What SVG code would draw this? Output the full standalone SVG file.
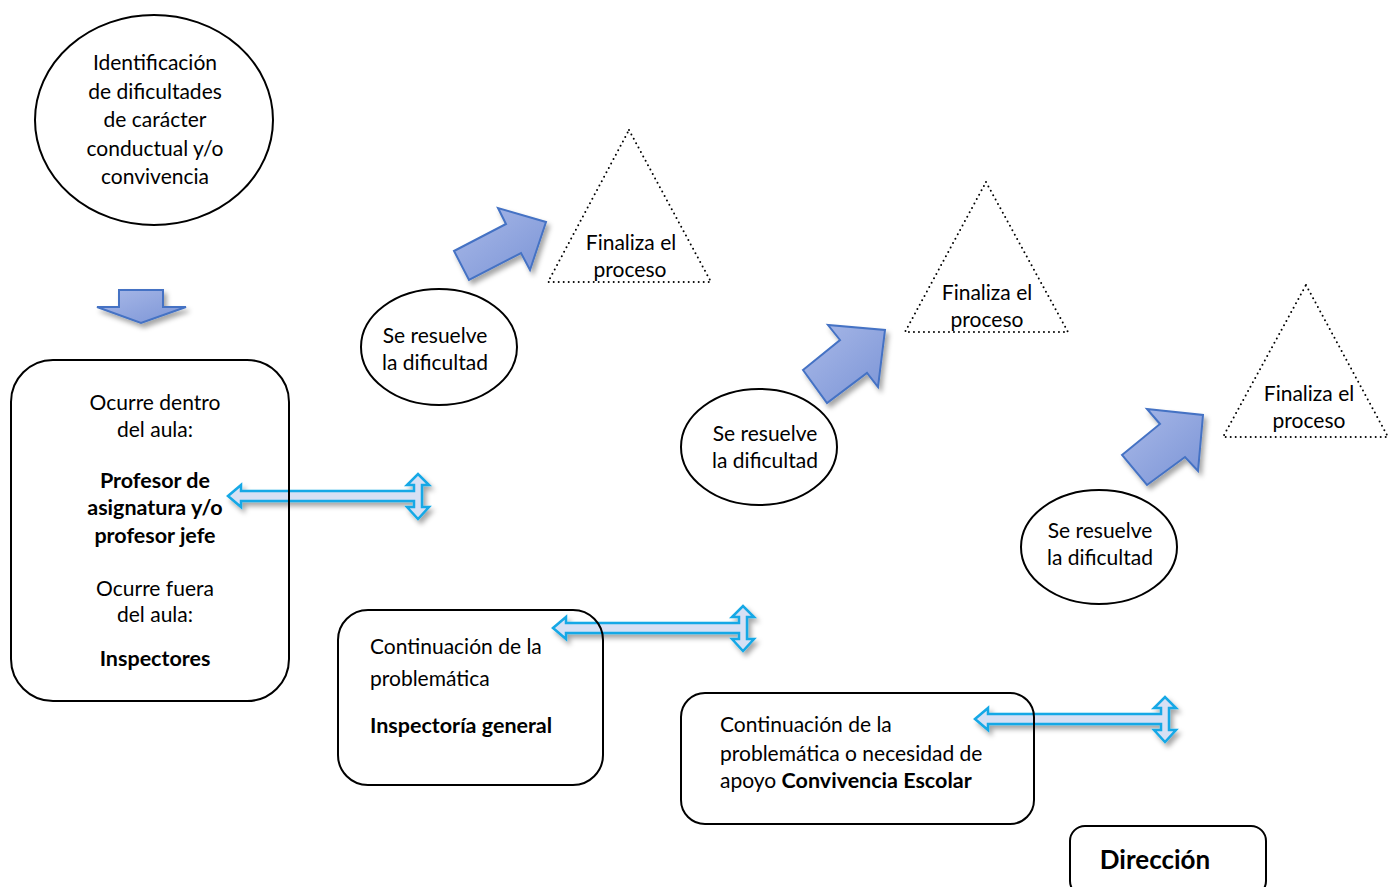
<svg xmlns="http://www.w3.org/2000/svg" width="1392" height="887" viewBox="0 0 1392 887">
  <style>
    .t { font-family: Lato, "Liberation Sans", sans-serif; font-size: 21px; fill: #000; }
    .c { text-anchor: middle; }
    .b { font-weight: bold; font-size: 21.5px; }
    .shape { fill: none; stroke: #000; stroke-width: 2; }
    .dots { fill: none; stroke: #000; stroke-width: 2; stroke-dasharray: 0 5; stroke-linecap: round; }
    .blk { fill: url(#blockFill); stroke: #4472c4; stroke-width: 2; stroke-linejoin: miter; filter: url(#softShadow); }
    .dbl { fill: #d7e0f4; stroke: #13a8e6; stroke-width: 2.5; stroke-linejoin: miter; filter: url(#softShadow); }
  </style>
  <defs>
    <linearGradient id="blockFill" x1="0" y1="0" x2="1" y2="1">
      <stop offset="0" stop-color="#a9b9e8"/>
      <stop offset="1" stop-color="#7b94d6"/>
    </linearGradient>
    <filter id="softShadow" x="-20%" y="-30%" width="150%" height="170%">
      <feDropShadow dx="3" dy="4" stdDeviation="2.5" flood-color="#000" flood-opacity="0.35"/>
    </filter>
    <!-- left-pointing arrow with a vertical two-way arrow at its right end -->
    <path id="twoWay" d="M0,0 L13,-11 L13,-5 L186,-5 L186,-11 L179,-11 L190,-22 L201,-11 L194,-11 L194,11 L201,11 L190,23 L179,11 L186,11 L186,5 L13,5 L13,11 Z"/>
  </defs>

  <rect width="1392" height="887" fill="#fff"/>

  <g id="connectors">
    <polygon class="blk" points="119,290 163,290 163,307 186,307 141,323 97,307 119,307"/>
    <polygon class="blk" points="454,251 506,224 498,208 546,222 530,270 521,253 469,280"/>
    <polygon class="blk" points="803,370 840,340 828,325 885,330 878,387 867,373 827,403"/>
    <polygon class="blk" points="1122,455 1160,424 1147,409 1203,415 1198,471 1185,457 1147,485"/>
    <use href="#twoWay" class="dbl" transform="translate(228,496)"/>
    <use href="#twoWay" class="dbl" transform="translate(553,628)"/>
    <use href="#twoWay" class="dbl" transform="translate(975,719)"/>
  </g>

  <g id="start">
    <ellipse class="shape" cx="154" cy="120" rx="119" ry="105"/>
    <text class="t c" x="155" y="70">Identificación</text>
    <text class="t c" x="155" y="99">de dificultades</text>
    <text class="t c" x="155" y="127">de carácter</text>
    <text class="t c" x="155" y="156">conductual y/o</text>
    <text class="t c" x="155" y="184">convivencia</text>
  </g>

  <g id="level1">
    <rect class="shape" x="11" y="360" width="278" height="341" rx="42"/>
    <text class="t c" x="155" y="410">Ocurre dentro</text>
    <text class="t c" x="155" y="437">del aula:</text>
    <text class="t c b" x="155" y="488">Profesor de</text>
    <text class="t c b" x="155" y="515">asignatura y/o</text>
    <text class="t c b" x="155" y="543">profesor jefe</text>
    <text class="t c" x="155" y="596">Ocurre fuera</text>
    <text class="t c" x="155" y="622">del aula:</text>
    <text class="t c b" x="155" y="666">Inspectores</text>
  </g>

  <g id="level2">
    <rect class="shape" x="338" y="610" width="265" height="175" rx="30"/>
    <text class="t" x="370" y="654">Continuación de la</text>
    <text class="t" x="370" y="686">problemática</text>
    <text class="t b" x="370" y="733">Inspectoría general</text>
  </g>

  <g id="level3">
    <rect class="shape" x="681" y="693" width="353" height="131" rx="24"/>
    <text class="t" x="720" y="732">Continuación de la</text>
    <text class="t" x="720" y="761">problemática o necesidad de</text>
    <text class="t" x="720" y="788">apoyo <tspan class="b">Convivencia Escolar</tspan></text>
  </g>

  <g id="level4">
    <rect class="shape" x="1070" y="826" width="196" height="70" rx="15"/>
    <text class="t c b" x="1155" y="869" style="font-size:26px">Dirección</text>
  </g>

  <g id="resolved1">
    <ellipse class="shape" cx="439" cy="347" rx="78" ry="58"/>
    <text class="t c" x="435" y="343">Se resuelve</text>
    <text class="t c" x="435" y="370">la dificultad</text>
  </g>
  <g id="resolved2">
    <ellipse class="shape" cx="759" cy="447" rx="78" ry="58"/>
    <text class="t c" x="765" y="441">Se resuelve</text>
    <text class="t c" x="765" y="468">la dificultad</text>
  </g>
  <g id="resolved3">
    <ellipse class="shape" cx="1099" cy="547" rx="78" ry="57"/>
    <text class="t c" x="1100" y="538">Se resuelve</text>
    <text class="t c" x="1100" y="565">la dificultad</text>
  </g>

  <g id="end1">
    <polygon class="dots" points="629,130 711,282 548,282"/>
    <text class="t c" x="631" y="250">Finaliza el</text>
    <text class="t c" x="630" y="277">proceso</text>
  </g>
  <g id="end2">
    <polygon class="dots" points="986,182 1068,332 905,332"/>
    <text class="t c" x="987" y="300">Finaliza el</text>
    <text class="t c" x="987" y="327">proceso</text>
  </g>
  <g id="end3">
    <polygon class="dots" points="1306,285 1388,437 1223,437"/>
    <text class="t c" x="1309" y="401">Finaliza el</text>
    <text class="t c" x="1309" y="428">proceso</text>
  </g>
</svg>
